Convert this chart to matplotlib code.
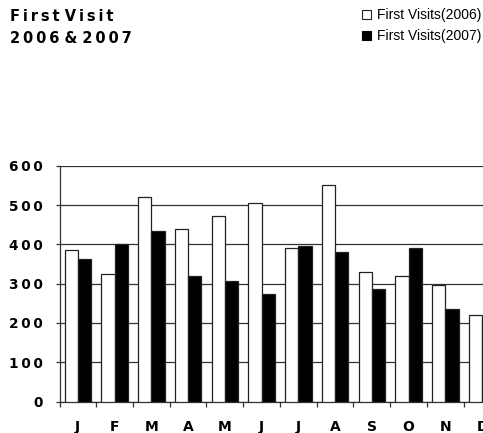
import numpy as np
import matplotlib.pyplot as plt
from matplotlib.patches import Patch
from matplotlib.ticker import FixedLocator, NullFormatter

# Monthly first visits
months = ['J', 'F', 'M', 'A', 'M', 'J', 'J', 'A', 'S', 'O', 'N', 'D']
visits_2006 = [385, 325, 522, 439, 472, 507, 390, 551, 330, 320, 297, 220]
visits_2007 = [363, 400, 434, 320, 308, 275, 395, 380, 287, 390, 236, 210]
y_ticks = [0, 100, 200, 300, 400, 500, 600]

BOLD = ['DejaVu Sans']
PLAIN = ['Liberation Sans', 'DejaVu Sans']


def spaced(s):
    # thin spaces between letters, but not next to a word gap
    out = s[0]
    for prev, ch in zip(s, s[1:]):
        if prev != ' ' and ch != ' ':
            out += '\u2009'
        out += ch
    return out


fig = plt.figure(figsize=(4.83, 4.33), dpi=100)
W, H = 483, 433
# axes runs off the right edge of the figure
ax = fig.add_axes([59.5 / W, (H - 401.5) / H, 441 / W, 235.5 / H])

x = np.arange(len(months))
bw = 0.36
ax.bar(x - bw / 2, visits_2006, bw, color='white', edgecolor='#222222',
       linewidth=0.9, zorder=3)
ax.bar(x + bw / 2, visits_2007, bw, color='black', edgecolor='#222222',
       linewidth=0.9, zorder=3)

ax.set_xlim(-0.5, len(months) - 0.5)
ax.set_ylim(0, 600)

ax.set_yticks(y_ticks)
ax.set_yticklabels([spaced(str(v)) for v in y_ticks], family=BOLD,
                   fontweight='bold', fontsize=9.8)
ax.tick_params(axis='y', direction='out', length=3, width=0.9,
               color='#333333', pad=9.0)

ax.set_xticks(x)
ax.set_xticklabels(months, family=BOLD, fontweight='bold', fontsize=10)
ax.tick_params(axis='x', which='major', length=0, pad=13.2)
ax.xaxis.set_minor_locator(FixedLocator(np.arange(-0.5, len(months), 1.0)))
ax.xaxis.set_minor_formatter(NullFormatter())
ax.tick_params(axis='x', which='minor', direction='out', length=3.5,
               width=0.9, color='#333333')

ax.grid(axis='y', color='#333333', linewidth=0.9, zorder=0)
ax.set_axisbelow(True)
for side in ['top', 'right']:
    ax.spines[side].set_visible(False)
for side in ['left', 'bottom']:
    ax.spines[side].set_color('#333333')
    ax.spines[side].set_linewidth(0.9)

# heading, top left
fig.text(10 / W, 1 - 21 / H, spaced('First Visit'), family=BOLD,
         fontweight='bold', fontsize=10.5, ha='left', va='baseline')
fig.text(10 / W, 1 - 43 / H, spaced('2006 & 2007'), family=BOLD,
         fontweight='bold', fontsize=10.5, ha='left', va='baseline')

handles = [Patch(facecolor='white', edgecolor='#222222', linewidth=0.8),
           Patch(facecolor='black', edgecolor='black', linewidth=0.8)]
fig.legend(handles, ['First Visits(2006)', 'First Visits(2007)'],
           loc='upper right', bbox_to_anchor=(492.5 / W, 1.0 + 3 / H),
           frameon=False, prop={'family': PLAIN, 'size': 10},
           handlelength=0.65, handleheight=0.65, handletextpad=0.43,
           labelspacing=0.5, borderpad=0.3)

fig.savefig('out.png', dpi=100)
